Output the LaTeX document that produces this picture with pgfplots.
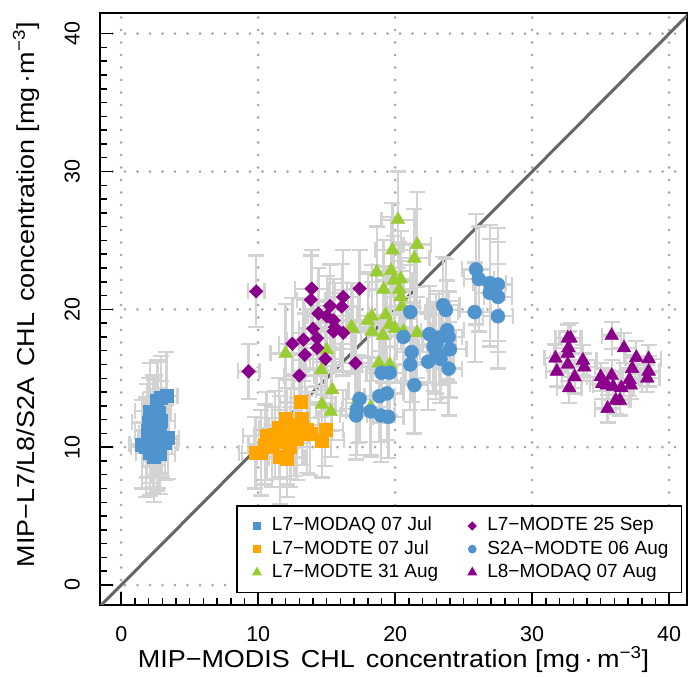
\documentclass[border=0pt]{standalone}
\usepackage{fontspec}
\setmainfont{Liberation Sans}
\newfontfamily\labfont[FakeStretch=1.1]{Liberation Sans}
\usepackage{pgfplots}
\pgfplotsset{compat=1.18}
\usepackage{pgfplotstable}
\definecolor{cblue}{HTML}{4F94CD}
\definecolor{corange}{HTML}{FFA500}
\definecolor{cgreen}{HTML}{9ACD32}
\definecolor{cpurple}{HTML}{8B008B}
\definecolor{ebar}{HTML}{D3D3D3}
\definecolor{gridc}{HTML}{A8A8A8}

\pgfplotstableread{
x y ex ey
2.9 13.6 0.9 3.0
3.3 13.7 0.8 3.2
2.6 13.4 1.0 2.8
2.1 12.6 1.1 3.5
2.3 12.2 0.7 3.0
2.7 12.5 0.9 3.8
2.0 11.8 1.2 3.2
2.5 11.6 0.8 3.6
2.9 11.9 1.0 2.9
1.9 11.2 0.9 3.4
2.4 11.0 1.1 3.9
2.8 11.2 0.7 3.1
2.2 10.7 1.0 3.3
2.6 10.5 0.9 3.7
3.0 10.6 1.2 2.8
3.4 10.7 0.8 3.0
1.5 10.2 0.9 3.2
1.8 10.0 1.1 3.6
2.3 10.1 0.8 3.4
2.7 10.0 1.0 3.0
3.2 10.3 0.9 2.7
2.1 9.6 1.0 3.1
2.4 9.3 0.8 3.3
2.8 9.5 1.1 2.9
2.6 12.9 0.9 3.4
}\tabA

\pgfplotstableread{
x y ex ey
13.1 13.3 1.6 3.0
13.2 12.1 1.2 3.4
12.0 12.1 1.8 2.8
11.5 11.4 1.4 3.6
13.55 11.25 1.5 3.1
14.9 11.25 1.3 2.6
10.6 10.8 1.7 3.2
10.5 10.2 1.2 2.9
12.1 10.8 1.6 3.5
12.8 10.6 1.4 3.0
14.65 10.5 1.6 2.7
11.6 10.4 1.3 3.3
12.3 10.0 1.5 2.9
9.8 9.6 1.2 2.6
10.2 9.6 1.4 3.1
11.6 9.3 1.7 3.4
12.1 9.2 1.3 2.8
11.2 10.9 1.5 3.2
12.6 11.6 1.8 3.7
11.0 10.0 1.2 2.9
12.4 11.0 1.4 3.3
13.8 11.0 1.6 3.0
}\tabB

\pgfplotstableread{
x y ex ey
9.85 21.3 0.6 2.6
9.3 15.5 0.8 2.0
13.9 21.5 1.2 2.8
13.85 20.7 1.0 3.2
15.25 20.25 1.3 3.0
16.2 20.9 1.1 3.4
17.4 21.5 0.9 2.8
16.1 20.2 1.2 3.1
14.4 19.7 1.0 3.3
15.0 19.5 1.4 2.9
15.5 19.2 1.1 3.0
15.6 18.7 1.2 3.2
15.5 18.4 0.9 2.8
16.2 18.3 1.3 3.1
14.0 18.6 1.0 2.9
13.3 17.8 1.2 3.0
14.3 17.9 1.1 2.7
12.5 17.5 1.0 3.3
14.3 17.2 1.2 2.8
13.4 16.7 0.9 3.0
14.9 16.4 1.1 2.6
17.1 16.1 1.0 2.9
13.0 15.2 1.1 3.1
}\tabC

\pgfplotstableread{
x y ex ey
20.2 26.5 1.2 3.5
21.6 24.7 1.0 3.8
19.8 24.3 1.3 3.4
21.4 23.7 1.1 3.6
18.65 22.7 1.2 3.3
19.7 22.8 1.4 3.9
20.4 22.2 1.0 3.5
19.9 22.1 1.3 3.2
19.15 21.45 1.1 3.6
20.3 21.45 1.2 3.4
20.4 20.9 1.0 3.8
20.5 20.2 1.3 3.3
18.3 19.5 1.1 3.7
19.3 19.6 1.2 3.5
16.8 18.7 1.0 3.2
18.3 18.4 1.3 3.6
19.6 18.9 1.1 3.4
20.0 18.6 1.2 3.9
21.6 18.3 1.0 3.3
20.6 18.4 1.3 3.6
19.1 18.1 1.1 3.4
18.8 16.1 1.2 3.5
19.6 16.0 1.0 3.7
17.3 13.5 1.1 3.2
18.2 12.9 1.2 3.6
12.0 16.8 1.1 3.6
16.9 18.6 1.2 3.3
15.0 17.05 1.0 3.5
14.6 15.6 1.1 3.4
15.4 14.15 1.2 3.0
14.65 13.1 1.0 3.1
15.3 12.6 1.1 3.3
18.0 19.2 1.2 3.4
}\tabD

\pgfplotstableread{
x y ex ey
25.9 22.9 1.0 4.0
26.1 22.2 1.1 3.8
26.9 21.9 1.2 4.2
27.5 21.8 1.0 4.1
26.9 21.2 1.1 3.9
27.5 20.9 1.0 4.0
25.8 19.8 1.2 3.6
27.5 19.5 1.1 3.8
23.5 20.3 1.2 3.5
23.7 19.95 1.0 3.7
21.1 19.8 1.1 3.4
23.8 18.5 1.2 3.6
23.9 18.0 1.0 3.3
22.5 18.2 1.1 3.5
23.2 17.95 1.2 3.4
23.0 17.5 1.0 3.6
22.8 17.3 1.1 3.2
24.0 17.1 1.2 3.5
20.6 18.0 1.0 3.3
21.2 16.9 1.1 3.6
23.0 16.9 1.2 3.4
23.3 16.4 1.0 3.2
22.4 16.2 1.1 3.5
21.1 16.0 1.2 3.3
23.9 15.7 1.0 3.4
19.0 15.4 1.1 3.6
19.6 15.4 1.2 3.2
21.4 14.5 1.0 3.5
18.85 13.7 1.1 3.3
19.4 13.9 1.2 3.4
17.4 13.5 1.0 3.1
17.2 12.75 1.1 3.3
18.2 12.6 1.2 3.2
18.95 12.3 1.0 3.4
19.5 12.2 1.1 3.0
17.15 12.3 1.2 3.2
}\tabE

\pgfplotstableread{
x y ex ey
32.6 17.9 0.9 1.0
32.8 17.9 0.8 1.1
35.8 18.1 0.7 1.0
32.65 17.2 0.9 1.2
32.6 16.8 1.0 1.1
31.7 16.45 0.8 1.0
36.7 17.2 0.9 1.1
37.6 16.5 0.8 1.2
38.5 16.4 0.9 1.0
33.7 16.3 1.0 1.1
33.8 15.8 0.8 1.0
32.6 16.0 0.9 1.2
31.8 15.5 0.8 1.1
37.3 15.7 0.9 1.0
38.5 15.5 0.8 1.1
33.1 15.1 0.9 1.2
35.0 15.1 1.0 1.0
35.8 15.2 0.8 1.1
38.4 15.0 0.9 1.0
37.1 14.9 0.8 1.2
35.1 14.6 0.9 1.1
35.45 14.5 1.0 1.0
35.9 14.4 0.8 1.1
36.5 14.3 0.9 1.2
37.2 14.5 0.8 1.0
32.7 14.3 0.9 1.1
36.1 13.4 1.0 1.0
36.4 13.4 0.8 1.1
35.5 12.8 0.9 1.0
}\tabF

\pgfplotsset{
  ebars/.style={forget plot, only marks, mark=none,
    error bars/.cd, x dir=both, x explicit, y dir=both, y explicit,
    error bar style={draw=ebar, line width=2.3pt},
    error mark options={rotate=90, draw=ebar, mark size=8pt, line width=2.3pt}},
  limg/.style={legend image code/.code={%
    \path[draw=none, fill=none] (-8pt,-6pt) rectangle (8pt,6pt);
    \draw[##1] plot coordinates {(0pt,0pt)};}},
}

\begin{document}
\begin{tikzpicture}
\begin{axis}[at={(0,0)}, anchor=south west, scale only axis,
  width=587pt, height=592pt,
  xmin=-1.55, xmax=41.3, ymin=-1.45, ymax=41.5,
  xtick={0,10,20,30,40}, ytick={0,10,20,30,40},
  minor tick num=9, tick align=inside, tick pos=left,
  major tick length=13pt, minor tick length=7pt,
  every tick/.style={black, line width=1.5pt},
  axis line style={line width=2.5pt},
  grid=major,
  major grid style={gridc, line width=3pt, line cap=round, dash pattern=on 0pt off 12.5pt},
  /pgf/number format/assume math mode=true,
  tick label style={font=\fontsize{21.5}{22}\selectfont},
  yticklabel style={rotate=90, anchor=south, inner sep=0pt},
  yticklabel shift=20pt,
  xticklabel style={anchor=north, inner sep=0pt},
  xticklabel shift=21pt,
  xlabel={MIP−MODIS\hspace{0.45em}CHL\hspace{0.45em}concentration [mg\,·\,m\textsuperscript{−3}]},
  ylabel={MIP−L7/L8/S2A\hspace{0.45em}CHL\hspace{0.45em}concentration [mg\,·m\textsuperscript{−3}]},
  xlabel style={font=\labfont\fontsize{24.5}{25}\selectfont, at={(axis description cs:0.5,-0.106)}, anchor=base, inner sep=0pt},
  ylabel style={font=\labfont\fontsize{24.5}{25}\selectfont, at={(axis description cs:-0.1124,0.524)}, anchor=base, inner sep=0pt},
  legend columns=2,
  legend cell align=left,
  legend style={at={(axis description cs:0.9915,0.0203)}, anchor=south east,
    draw=black, line width=1.2pt, fill=white,
    font=\fontsize{19}{20}\selectfont,
    nodes={text height=14pt, text depth=4pt, inner xsep=1pt, inner ysep=2pt},
    inner xsep=12pt, inner ysep=9pt, column sep=6pt, row sep=1.2pt,
    /tikz/every even column/.append style={column sep=25pt}},
]
\addplot[forget plot, color=black!60, line width=3pt] coordinates {(-3,-3) (45,45)};

\addplot[ebars] table[x=x, y=y, x error=ex, y error=ey] {\tabA};
\addplot[ebars] table[x=x, y=y, x error=ex, y error=ey] {\tabB};
\addplot[ebars] table[x=x, y=y, x error=ex, y error=ey] {\tabD};
\addplot[ebars] table[x=x, y=y, x error=ex, y error=ey] {\tabC};
\addplot[ebars] table[x=x, y=y, x error=ex, y error=ey] {\tabE};
\addplot[ebars] table[x=x, y=y, x error=ex, y error=ey] {\tabF};

\addplot[forget plot, only marks, mark=square*, mark size=6.5pt, color=cblue] table[x=x, y=y] {\tabA};
\addplot[forget plot, only marks, mark=square*, mark size=6.5pt, color=corange] table[x=x, y=y] {\tabB};
\addplot[forget plot, only marks, mark=triangle*, mark size=8pt, color=cgreen] table[x=x, y=y] {\tabD};
\addplot[forget plot, only marks, mark=square*, mark size=4.8pt, mark options={rotate=45}, color=cpurple] table[x=x, y=y] {\tabC};
\addplot[forget plot, only marks, mark=*, mark size=7pt, color=cblue] table[x=x, y=y] {\tabE};
\addplot[forget plot, only marks, mark=triangle*, mark size=8pt, color=cpurple] table[x=x, y=y] {\tabF};

\addlegendimage{limg, mark=square*, mark size=3.5pt, color=cblue}
\addlegendentry{L7−MODAQ 07 Jul}
\addlegendimage{limg, mark=square*, mark size=2.7pt, mark options={rotate=45}, color=cpurple}
\addlegendentry{L7−MODTE 25 Sep}
\addlegendimage{limg, mark=square*, mark size=3.5pt, color=corange}
\addlegendentry{L7−MODTE 07 Jul}
\addlegendimage{limg, mark=*, mark size=3.7pt, color=cblue}
\addlegendentry{S2A−MODTE 06 Aug}
\addlegendimage{limg, mark=triangle*, mark size=4.6pt, color=cgreen}
\addlegendentry{L7−MODTE 31 Aug}
\addlegendimage{limg, mark=triangle*, mark size=4.6pt, color=cpurple}
\addlegendentry{L8−MODAQ 07 Aug}
\end{axis}
\pgfresetboundingbox
\path (-100pt,-72pt) rectangle (588pt,605pt);
\end{tikzpicture}
\end{document}
